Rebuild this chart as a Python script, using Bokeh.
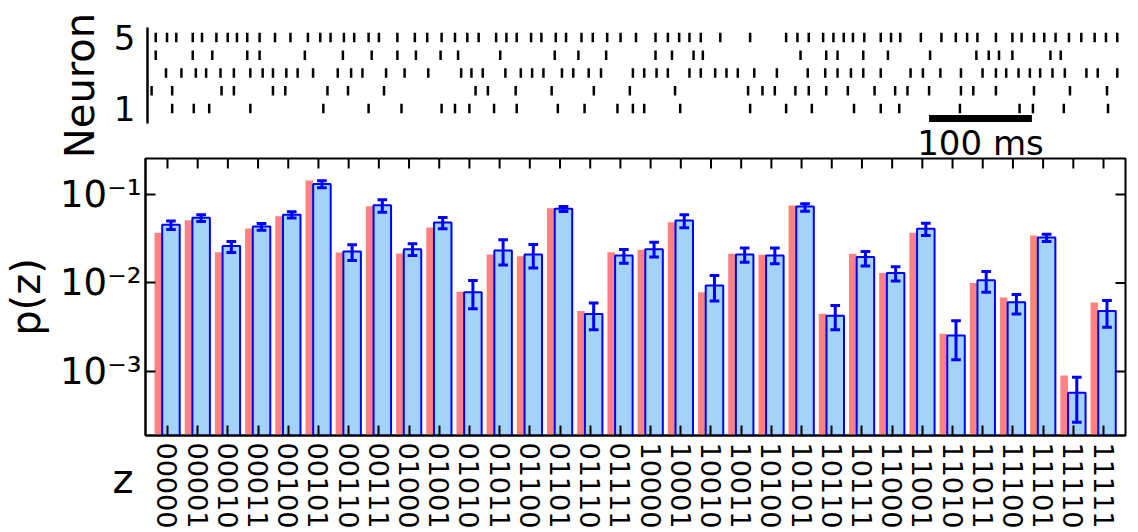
from bokeh.plotting import figure
from bokeh.models import Range1d, FixedTicker, Label, ColumnDataSource
from bokeh.layouts import column
from bokeh.embed import file_html
from bokeh.resources import INLINE

FONT = "DejaVu Sans"

# ---------------- data ----------------
# spike times (ms) of the five neurons
spikes_n5 = [8, 19, 28, 44, 53, 67, 78, 87, 97, 109, 124, 139, 156, 168, 178, 191, 201, 215, 225, 243,
             260, 272, 286, 299, 311, 322, 339, 349, 359, 373, 383, 397, 407, 422, 433, 447, 460, 475,
             494, 506, 517, 527, 538, 557, 586, 621, 632, 643, 657, 667, 677, 686, 697, 713, 723, 732,
             752, 772, 786, 797, 807, 825, 841, 850, 862, 872, 883, 896, 908, 921, 932, 943]
spikes_n4 = [8, 44, 63, 97, 109, 153, 190, 218, 243, 261, 285, 302, 343, 396, 419, 446, 494, 510, 531,
             540, 635, 660, 671, 696, 720, 761, 806, 818, 828, 841, 878, 888]
spikes_n3 = [18, 33, 47, 57, 71, 84, 100, 112, 122, 135, 146, 161, 185, 198, 209, 232, 250, 273, 305,
             315, 326, 348, 363, 374, 385, 403, 414, 429, 441, 472, 483, 495, 506, 527, 538, 552, 563,
             574, 590, 612, 642, 659, 671, 684, 696, 713, 742, 754, 771, 791, 812, 825, 835, 847, 858,
             868, 880, 892, 913, 924, 943]
spikes_n2 = [4, 24, 72, 84, 122, 134, 175, 195, 230, 319, 331, 358, 393, 434, 469, 513, 584, 598, 610,
             630, 643, 660, 681, 707, 727, 739, 760, 791, 803, 825, 862, 897, 933]
spikes_n1 = [24, 45, 60, 100, 171, 215, 247, 286, 299, 313, 337, 359, 399, 425, 457, 472, 483, 518,
             586, 621, 646, 687, 713, 731, 790, 848, 861, 891, 934]
neuron_ids = [5, 4, 3, 2, 1]
scalebar_ms = [760, 860]
scalebar_text = "100 ms"

# binary patterns z and probabilities
patterns = ["00000", "00001", "00010", "00011", "00100", "00101", "00110", "00111",
            "01000", "01001", "01010", "01011", "01100", "01101", "01110", "01111",
            "10000", "10001", "10010", "10011", "10100", "10101", "10110", "10111",
            "11000", "11001", "11010", "11011", "11100", "11101", "11110", "11111"]
p_red = [0.0369, 0.0513, 0.0223, 0.0413, 0.0569, 0.144, 0.0221, 0.0738, 0.0215, 0.0424, 0.00795,
         0.0210, 0.0201, 0.0701, 0.00481, 0.0223, 0.0237, 0.0486, 0.00787, 0.0214, 0.0208, 0.0751,
         0.00449, 0.0214, 0.0130, 0.0369, 0.00267, 0.0100, 0.00686, 0.0344, 0.000902, 0.00602]
p_blue = [0.0454, 0.0545, 0.0261, 0.0435, 0.0589, 0.131, 0.0227, 0.0757, 0.0241, 0.0483, 0.00787,
          0.0233, 0.0210, 0.0689, 0.00445, 0.0205, 0.0241, 0.0509, 0.00937, 0.0210, 0.0205, 0.0732,
          0.00426, 0.0196, 0.0130, 0.0409, 0.00255, 0.0107, 0.00607, 0.0327, 0.000574, 0.00481]
err_lo = [0.0403, 0.0495, 0.0221, 0.0395, 0.0541, 0.119, 0.01795, 0.0631, 0.0205, 0.0409, 0.0051,
          0.016, 0.0148, 0.0643, 0.00296, 0.01675, 0.0196, 0.042, 0.00624, 0.0172, 0.0165, 0.0648,
          0.00296, 0.0156, 0.0105, 0.0344, 0.001355, 0.00787, 0.00445, 0.0294, 0.000267, 0.00317]
err_hi = [0.05, 0.0589, 0.0294, 0.047, 0.0637, 0.1426, 0.027, 0.0871, 0.0277, 0.055, 0.01067,
          0.0308, 0.0272, 0.0732, 0.00592, 0.0239, 0.0289, 0.0589, 0.01216, 0.0248, 0.0248, 0.0785,
          0.00557, 0.0227, 0.01524, 0.0474, 0.00374, 0.0135, 0.00741, 0.0356, 0.000863, 0.00634]
ytick_vals = [0.001, 0.01, 0.1]
ytick_text = ["10\u207b\u00b3", "10\u207b\u00b2", "10\u207b\u00b9"]
xlabel_text = "z"

RED = "#ff8282"
LIGHTBLUE = "#a3d3f9"
BLUE = "#0000ff"

# ---------------- raster ----------------
P1_H = 170
OVERLAP = P1_H - 155
Y_LO, Y_HI = 1 - (P1_H - 108) / 17.75, 1 + 108 / 17.75
p1 = figure(width=1138, height=P1_H, x_range=Range1d(-1.94, 951), y_range=Range1d(Y_LO, Y_HI),
            x_axis_location=None, output_backend="svg", toolbar_location=None,
            min_border_left=143, min_border_right=13, min_border_top=0, min_border_bottom=0)
p1.outline_line_color = None
p1.grid.visible = False
ya = p1.yaxis[0]
ya.ticker = FixedTicker(ticks=[1, 5])
ya.axis_line_color = None
ya.major_tick_line_color = None
ya.minor_tick_line_color = None
ya.major_label_text_font = FONT
ya.major_label_text_font_size = "34px"
ya.major_label_text_color = "black"
ya.major_label_standoff = 4
ya.axis_label = "Neuron"
ya.axis_label_text_font = FONT
ya.axis_label_text_font_size = "40px"
ya.axis_label_text_font_style = "normal"
ya.axis_label_text_color = "black"
ya.axis_label_standoff = 8

# spine of the raster axis (spans the neuron rows only)
p1.segment(x0=[0], x1=[0], y0=[0.155], y1=[5.563], line_color="black", line_width=2.5, line_cap="butt")

all_spikes = [spikes_n5, spikes_n4, spikes_n3, spikes_n2, spikes_n1]
xs, y0s, y1s = [], [], []
for nid, times in zip(neuron_ids, all_spikes):
    for t in times:
        xs.append(t)
        y0s.append(nid - 0.27)
        y1s.append(nid + 0.27)
src_sp = ColumnDataSource(dict(x=xs, y0=y0s, y1=y1s))
p1.segment(x0="x", x1="x", y0="y0", y1="y1", source=src_sp, line_color="black", line_width=2.5,
           line_cap="butt")

p1.segment(x0=[scalebar_ms[0]], x1=[scalebar_ms[1]], y0=[0.44], y1=[0.44],
           line_color="black", line_width=7, line_cap="butt")
p1.add_layout(Label(x=(scalebar_ms[0] + scalebar_ms[1]) / 2, y=-0.93, text=scalebar_text,
                    text_align="center", text_baseline="alphabetic", text_font=FONT,
                    text_font_size="34px", text_color="black"))

# ---------------- bars ----------------
X_LO, X_HI = -0.728, 31.728
P_LO, P_HI = 1.89e-4, 0.255
p2 = figure(width=1138, height=377, x_range=Range1d(X_LO, X_HI), y_range=Range1d(P_LO, P_HI),
            y_axis_type="log", output_backend="svg", toolbar_location=None,
            min_border_left=145, min_border_right=13, min_border_top=3, min_border_bottom=97,
            margin=(-OVERLAP, 0, 0, 0))
p2.border_fill_color = None
p2.grid.visible = False
p2.outline_line_color = "black"
p2.outline_line_width = 2

idx = list(range(len(patterns)))
src = ColumnDataSource(dict(
    xr=[i - 0.305 for i in idx], xb=[i + 0.115 for i in idx],
    red=p_red, blue=p_blue, lo=err_lo, hi=err_hi,
    c0=[i + 0.115 - 0.16 for i in idx], c1=[i + 0.115 + 0.16 for i in idx],
))
p2.vbar(x="xr", width=0.25, top="red", bottom=1e-6, source=src, fill_color=RED, line_color=None)
p2.vbar(x="xb", width=0.58, top="blue", bottom=1e-6, source=src, fill_color=LIGHTBLUE,
        line_color=BLUE, line_width=2)
p2.segment(x0="xb", x1="xb", y0="lo", y1="hi", source=src, line_color=BLUE, line_width=3)
p2.segment(x0="c0", x1="c1", y0="lo", y1="lo", source=src, line_color=BLUE, line_width=3)
p2.segment(x0="c0", x1="c1", y0="hi", y1="hi", source=src, line_color=BLUE, line_width=3)

# inward ticks on the top and right edges of the box (10 px long)
top_tick_lo = 10 ** (-0.593 - 10 / 88.5)
p2.segment(x0=idx, x1=idx, y0=[top_tick_lo] * len(idx), y1=[P_HI * 1.5] * len(idx),
           line_color="black", line_width=2)
right_tick_x = X_HI - 10 / 30.19
p2.segment(x0=[right_tick_x] * 3, x1=[X_HI + 1] * 3, y0=ytick_vals, y1=ytick_vals,
           line_color="black", line_width=2)

xa = p2.xaxis[0]
xa.ticker = FixedTicker(ticks=idx)
xa.major_label_overrides = {i: patterns[i] for i in idx}
xa.major_label_orientation = "vertical"
xa.major_label_text_font = FONT
xa.major_label_text_font_size = "27px"
xa.major_label_text_color = "black"
xa.major_label_standoff = 7
xa.major_tick_in = 10
xa.major_tick_out = 0
xa.major_tick_line_width = 2
xa.minor_tick_line_color = None
xa.axis_line_width = 2

yb = p2.yaxis[0]
yb.ticker = FixedTicker(ticks=ytick_vals)
yb.major_label_overrides = {v: t for v, t in zip(ytick_vals, ytick_text)}
yb.major_label_text_font = FONT
yb.major_label_text_font_size = "37px"
yb.major_label_text_color = "black"
yb.major_label_standoff = 4
yb.major_tick_in = 10
yb.major_tick_out = 0
yb.major_tick_line_width = 2
yb.minor_tick_line_color = None
yb.axis_line_width = 2
yb.axis_label = "p(z)"
yb.axis_label_text_font = FONT
yb.axis_label_text_font_size = "40px"
yb.axis_label_text_font_style = "normal"
yb.axis_label_text_color = "black"
yb.axis_label_standoff = 8

# ---------------- "z" label of the pattern axis (transparent overlay strip, drawn as an axis label) ----
p3 = figure(width=1138, height=60, x_range=Range1d(0, 1), y_range=Range1d(0, 60),
            x_axis_location=None, output_backend="svg", toolbar_location=None,
            min_border_left=145, min_border_right=13, min_border_top=0, min_border_bottom=0,
            margin=(-84, 0, 0, 0))
p3.outline_line_color = None
p3.grid.visible = False
p3.border_fill_color = None
p3.background_fill_color = None
za = p3.yaxis[0]
za.ticker = FixedTicker(ticks=[30])
za.major_label_overrides = {30: xlabel_text}
za.axis_line_color = None
za.major_tick_line_color = None
za.minor_tick_line_color = None
za.major_label_text_font = FONT
za.major_label_text_font_size = "40px"
za.major_label_text_color = "black"
za.major_label_standoff = 6

layout = column(p1, p2, p3, spacing=0)
open("out.html", "w").write(file_html(layout, INLINE))
